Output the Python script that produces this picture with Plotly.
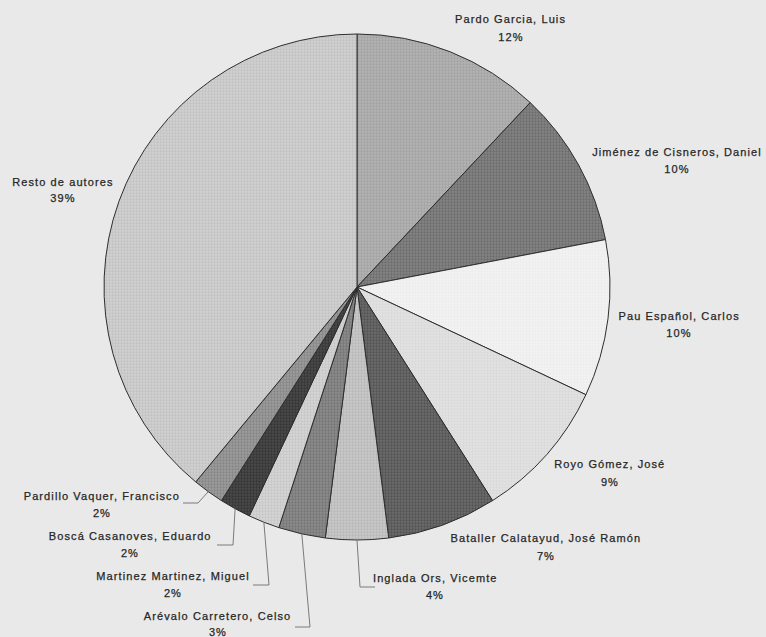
import plotly.graph_objects as go
import math

# Authors and their share of publications (%), clockwise from 12 o'clock
authors = [
    "Pardo Garcia, Luis",
    "Jiménez de Cisneros, Daniel",
    "Pau Español, Carlos",
    "Royo Gómez, José",
    "Bataller Calatayud, José Ramón",
    "Inglada Ors, Vicemte",
    "Arévalo Carretero, Celso",
    "Martinez Martinez, Miguel",
    "Boscá Casanoves, Eduardo",
    "Pardillo Vaquer, Francisco",
    "Resto de autores",
]
shares = [12, 10, 10, 9, 7, 4, 3, 2, 2, 2, 39]

# Grey fills (background tone, dither tone) per slice
fill_bg = ["#b4b4b4", "#848484", "#f2f2f2", "#e2e2e2", "#6c6c6c", "#cacaca",
           "#8c8c8c", "#d6d6d6", "#4a4a4a", "#9c9c9c", "#d2d2d2"]
fill_fg = ["#8e8e8e", "#545454", "#e6e6e6", "#cfcfcf", "#3a3a3a", "#a2a2a2",
           "#5e5e5e", "#b4b4b4", "#1e1e1e", "#6e6e6e", "#afafaf"]

W, H = 766, 637
CX, CY, R = 357, 287, 253  # pie centre and radius in pixels


def px(x, y):
    return x / W, 1 - y / H


# Label centres (pixels): name line y, percent line y
label_pos = [
    (511, 19, 37), (677, 152, 169), (679, 316, 333), (610, 464, 482),
    (546, 538, 556), (435, 578, 595), (218, 616, 632), (173, 576, 593),
    (130, 536, 553), (102, 496, 513), (63, 182, 198),
]
# Leader line elbows (pixels) for the small slices: (elbow x, elbow y, end x)
leaders = {
    5: (360, 587, 375),
    6: (310, 627, 295),
    7: (269, 585, 253),
    8: (233, 545, 217),
    9: (198, 503, 183),
}

fig = go.Figure(go.Pie(
    labels=authors,
    values=shares,
    sort=False,
    direction="clockwise",
    rotation=0,
    textinfo="none",
    hoverinfo="label+percent",
    showlegend=False,
    marker=dict(
        colors=fill_bg,
        line=dict(color="#2e2e2e", width=1),
        pattern=dict(shape=".", fgcolor=fill_fg, bgcolor=fill_bg,
                     size=3, solidity=0.45, fillmode="overlay"),
    ),
    domain=dict(x=[(CX - R) / W, (CX + R) / W],
                y=[1 - (CY + R) / H, 1 - (CY - R) / H]),
))

font = dict(family="Liberation Sans, Arial, sans-serif", size=11,
            color="#262626")
annotations = []
for name, v, (lx, ny, py) in zip(authors, shares, label_pos):
    x0, y0 = px(lx, ny)
    x1, y1 = px(lx, py)
    annotations.append(dict(x=x0, y=y0, xref="paper", yref="paper", text=name,
                            showarrow=False, font=font, xanchor="center",
                            yanchor="middle"))
    annotations.append(dict(x=x1, y=y1, xref="paper", yref="paper", text=f"{v}%",
                            showarrow=False, font=font, xanchor="center",
                            yanchor="middle"))

# Leader lines from the slice mid-angle on the rim to the label
shapes = []
cum = 0
for i, v in enumerate(shares):
    mid = (cum + v / 2) / sum(shares) * 2 * math.pi
    cum += v
    if i not in leaders:
        continue
    sx = CX + R * math.sin(mid)
    sy = CY - R * math.cos(mid)
    ex, ey, endx = leaders[i]
    path = "M {} {} L {} {} L {} {}".format(*px(sx, sy), *px(ex, ey), *px(endx, ey))
    shapes.append(dict(type="path", xref="paper", yref="paper", path=path,
                       line=dict(color="#7a7a7a", width=1)))

fig.update_layout(
    width=W, height=H,
    margin=dict(l=0, r=0, t=0, b=0),
    paper_bgcolor="#e9e9e9",
    plot_bgcolor="#e9e9e9",
    annotations=annotations,
    shapes=shapes,
)

# Wide letter spacing on the label text
spacing_js = """
var gd = document.getElementById('{plot_id}');
gd.querySelectorAll('.annotation-text').forEach(function (t) {
    t.style.letterSpacing = '1.1px';
    t.style.stroke = '#262626';
    t.style.strokeWidth = '0.25px';
});
"""

fig.write_html("out.html", post_script=spacing_js)
